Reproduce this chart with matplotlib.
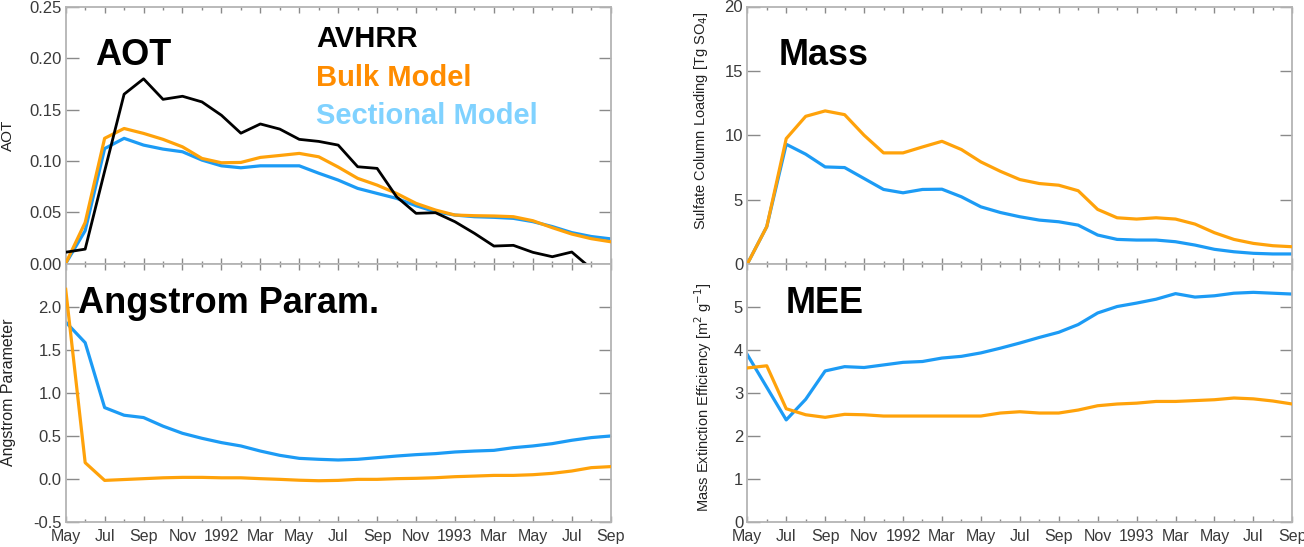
import numpy as np
import matplotlib
matplotlib.use("Agg")
import matplotlib.pyplot as plt
from matplotlib.ticker import FixedLocator, FixedFormatter, NullFormatter

plt.rcParams['font.family'] = ['Liberation Sans', 'DejaVu Sans']

# ---------------- data (monthly, May 1991 .. Sep 1993) ----------------
month_index = np.arange(29)
xtick_labels = ["May", "Jul", "Sep", "Nov", "1992", "Mar", "May", "Jul",
                "Sep", "Nov", "1993", "Mar", "May", "Jul", "Sep"]

aot_avhrr = [0.011, 0.014, 0.090, 0.165, 0.180, 0.160, 0.163, 0.1575, 0.1445,
             0.127, 0.136, 0.131, 0.121, 0.119, 0.1154, 0.0943, 0.0927, 0.065,
             0.0489, 0.0495, 0.0407, 0.0294, 0.017, 0.0177, 0.0109, 0.0066,
             0.0112, -0.005, np.nan]
aot_bulk = [0.0, 0.040, 0.122, 0.1316, 0.1268, 0.121, 0.1137, 0.1024, 0.0982,
            0.0985, 0.1034, 0.1053, 0.1073, 0.104, 0.094, 0.083, 0.0764, 0.0683,
            0.0586, 0.0521, 0.0472, 0.0466, 0.0463, 0.0456, 0.0417, 0.0349,
            0.0287, 0.0242, 0.0212]
aot_sect = [0.0, 0.032, 0.112, 0.122, 0.1154, 0.1115, 0.1089, 0.1008, 0.0952,
            0.0933, 0.0952, 0.0952, 0.0952, 0.088, 0.0813, 0.0732, 0.0683,
            0.0635, 0.0563, 0.0504, 0.0472, 0.0456, 0.045, 0.044, 0.0408,
            0.036, 0.0301, 0.0263, 0.024]

ang_bulk = [2.20, 0.186, -0.02, -0.01, 0.0, 0.01, 0.015, 0.015, 0.01, 0.01,
            0.0, -0.008, -0.018, -0.024, -0.02, -0.008, -0.008, 0.0, 0.004,
            0.011, 0.023, 0.03, 0.038, 0.038, 0.046, 0.062, 0.089, 0.128, 0.14]
ang_sect = [1.82, 1.58, 0.826, 0.737, 0.71, 0.61, 0.527, 0.469, 0.419, 0.38,
            0.321, 0.271, 0.236, 0.225, 0.217, 0.225, 0.244, 0.263, 0.279,
            0.291, 0.31, 0.321, 0.329, 0.36, 0.38, 0.407, 0.446, 0.477, 0.496]

mass_bulk = [0.0, 2.9, 9.74, 11.47, 11.89, 11.6, 10.0, 8.63, 8.63, 9.09, 9.53,
             8.89, 7.93, 7.2, 6.56, 6.25, 6.12, 5.69, 4.24, 3.59, 3.49, 3.59,
             3.49, 3.1, 2.43, 1.91, 1.6, 1.42, 1.34]
mass_sect = [0.0, 2.9, 9.3, 8.53, 7.54, 7.49, 6.64, 5.79, 5.53, 5.79, 5.81,
             5.22, 4.44, 4.0, 3.67, 3.41, 3.28, 3.02, 2.25, 1.91, 1.86, 1.86,
             1.73, 1.47, 1.14, 0.95, 0.83, 0.78, 0.78]

mee_bulk = [3.58, 3.63, 2.63, 2.49, 2.43, 2.50, 2.49, 2.46, 2.46, 2.46, 2.46,
            2.46, 2.46, 2.53, 2.56, 2.53, 2.53, 2.60, 2.70, 2.74, 2.76, 2.80,
            2.80, 2.82, 2.84, 2.88, 2.86, 2.81, 2.74]
mee_sect = [3.89, 3.13, 2.37, 2.85, 3.51, 3.61, 3.59, 3.65, 3.71, 3.73, 3.81,
            3.85, 3.93, 4.04, 4.16, 4.29, 4.41, 4.59, 4.86, 5.01, 5.09, 5.18,
            5.31, 5.23, 5.26, 5.32, 5.34, 5.32, 5.30]

# ---------------- style ----------------
ORANGE = "#FFA20A"
BLUE = "#1C9BF5"
ORANGE_TXT = "#FF8C00"
BLUE_TXT = "#80D2FF"
SPINE = "#B4B4B4"
TICKLAB = "#3A3A3A"

W, H = 1304, 547
fig = plt.figure(figsize=(W / 100, H / 100), dpi=100)


def pos(x0, y0, x1, y1):
    return [x0 / W, 1 - y1 / H, (x1 - x0) / W, (y1 - y0) / H]


ax_aot = fig.add_axes(pos(65.7, 7.0, 610.7, 263.5))
ax_ang = fig.add_axes(pos(65.7, 263.5, 610.7, 521.7))
ax_mass = fig.add_axes(pos(747.3, 6.5, 1292.3, 264.0))
ax_mee = fig.add_axes(pos(747.3, 264.0, 1292.3, 521.7))


def style(ax, yticks, ylim, yfmt, show_xlabels):
    ax.set_xlim(0, 28)
    ax.set_ylim(*ylim)
    ax.xaxis.set_major_locator(FixedLocator(month_index[::2]))
    ax.xaxis.set_minor_locator(FixedLocator(month_index))
    if show_xlabels:
        ax.xaxis.set_major_formatter(FixedFormatter(xtick_labels))
    else:
        ax.xaxis.set_major_formatter(NullFormatter())
    ax.yaxis.set_major_locator(FixedLocator(yticks))
    ax.yaxis.set_major_formatter(FixedFormatter([yfmt.format(v) for v in yticks]))
    for s in ax.spines.values():
        s.set_color(SPINE)
        s.set_linewidth(1.3)
    ax.tick_params(axis='x', which='major', direction='in', top=True, bottom=True,
                   length=4.5, width=1.0, color="#8a8a8a", pad=5,
                   labelsize=11.5, labelcolor=TICKLAB)
    ax.tick_params(axis='x', which='minor', direction='in', top=True, bottom=True,
                   length=2.3, width=1.0, color="#8a8a8a")
    ax.tick_params(axis='y', which='major', direction='in', left=True, right=True,
                   length=9, width=1.0, color="#8a8a8a", pad=3,
                   labelsize=12, labelcolor=TICKLAB)


style(ax_aot, [0.0, 0.05, 0.10, 0.15, 0.20, 0.25], (0, 0.25), "{:.2f}", False)
style(ax_ang, [-0.5, 0.0, 0.5, 1.0, 1.5, 2.0], (-0.5, 2.5), "{:.1f}", True)
style(ax_mass, [0, 5, 10, 15, 20], (0, 20), "{:d}", False)
style(ax_mee, [0, 1, 2, 3, 4, 5], (0, 6), "{:d}", True)

LW = 2.3
ax_aot.plot(month_index, aot_sect, color=BLUE, lw=LW, zorder=2)
ax_aot.plot(month_index, aot_bulk, color=ORANGE, lw=LW, zorder=3)
ax_aot.plot(month_index, aot_avhrr, color="black", lw=2.0, zorder=4)

ax_ang.plot(month_index, ang_sect, color=BLUE, lw=LW, zorder=2)
ax_ang.plot(month_index, ang_bulk, color=ORANGE, lw=LW, zorder=3)

ax_mass.plot(month_index, mass_sect, color=BLUE, lw=LW, zorder=2)
ax_mass.plot(month_index, mass_bulk, color=ORANGE, lw=LW, zorder=3)

ax_mee.plot(month_index, mee_sect, color=BLUE, lw=LW, zorder=2)
ax_mee.plot(month_index, mee_bulk, color=ORANGE, lw=LW, zorder=3)

# y labels
ax_aot.set_ylabel("AOT", fontsize=11, color="#222222")
ax_aot.yaxis.set_label_coords(-0.093, 0.5)
ax_ang.set_ylabel("Angstrom Parameter", fontsize=11.5, color="#222222")
ax_ang.yaxis.set_label_coords(-0.091, 0.5)
ax_mass.set_ylabel("Sulfate Column Loading [Tg SO$_4$]", fontsize=10.5, color="#222222")
ax_mass.yaxis.set_label_coords(-0.068, 0.555)
ax_mee.set_ylabel("Mass Extinction Efficiency [m$^2$ g$^{-1}$]", fontsize=10.5, color="#222222")
ax_mee.yaxis.set_label_coords(-0.062, 0.482)


def ftext(x, y, s, **kw):
    fig.text(x / W, 1 - y / H, s, va='baseline', ha='left', fontweight='bold', **kw)


ftext(95, 65, "AOT", fontsize=26, color="black")
ftext(78, 313, "Angstrom Param.", fontsize=26, color="black")
ftext(779, 65, "Mass", fontsize=26, color="black")
ftext(786, 313, "MEE", fontsize=26, color="black")

ftext(316, 47, "AVHRR", fontsize=21, color="black")
ftext(316, 86, "Bulk Model", fontsize=21, color=ORANGE_TXT)
ftext(316, 124, "Sectional Model", fontsize=21, color=BLUE_TXT)

fig.savefig("out.png", dpi=100)
